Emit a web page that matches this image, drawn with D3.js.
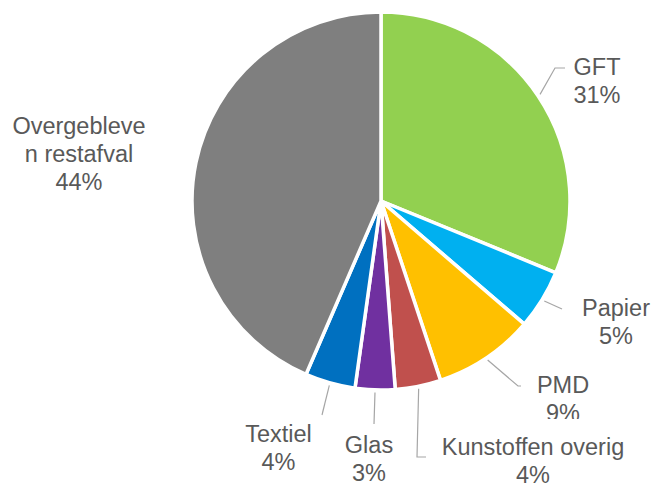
<!DOCTYPE html>
<html>
<head>
<meta charset="utf-8">
<script src="https://cdn.jsdelivr.net/npm/d3@7"></script>
<style>
  body { margin: 0; background: #fff; }
  text { font-family: "Liberation Sans", Arial, sans-serif; font-size: 23.5px; fill: #595959; }
</style>
</head>
<body>
<div id="chart"></div>
<script>
// waste composition, percent
var categories = ["GFT", "Papier", "PMD", "Kunstoffen overig", "Glas", "Textiel", "Overgebleven restafval"];
var values = [31.2, 5.1, 8.6, 3.9, 3.4, 4.3, 43.5];
var colors = ["#92D050", "#00B0F0", "#FFC000", "#C0504D", "#7030A0", "#0070C0", "#7F7F7F"];

var width = 653, height = 483;
var cx = 381, cy = 201, radius = 189;

// label layout: text centre, first baseline, lines, leader bend points
var labelLayout = [
  { x: 597, y: 75, lines: ["GFT"], leader: [[555, 68], [565, 68]] },
  { x: 616, y: 316, lines: ["Papier"], leader: [[562, 309]] },
  { x: 563, y: 393, lines: ["PMD"], leader: [[518, 386], [521, 386]], clip: 419 },
  { x: 533, y: 455, lines: ["Kunstoffen overig"], leader: [[417, 457], [426, 457]] },
  { x: 369, y: 453, lines: ["Glas"], leader: [[374, 424]] },
  { x: 278.5, y: 442, lines: ["Textiel"], leader: [[322, 415]] },
  { x: 79, y: 134, lines: ["Overgebleve", "n restafval"], leader: null }
];
var lineHeight = 28.2;

var data = categories.map(function(c, i) {
  return { name: c, value: values[i], color: colors[i], layout: labelLayout[i] };
});

var svg = d3.select("#chart").append("svg")
    .attr("width", width)
    .attr("height", height);

svg.append("defs").append("clipPath")
    .attr("id", "pmd-clip")
  .append("rect")
    .attr("x", 0).attr("y", 0)
    .attr("width", width).attr("height", 419);

var pie = d3.pie()
    .sort(null)
    .value(function(d) { return d.value; });

var arc = d3.arc()
    .innerRadius(0)
    .outerRadius(radius);

var arcs = pie(data);

var g = svg.append("g")
    .attr("transform", "translate(" + cx + "," + cy + ")");

g.selectAll("path")
    .data(arcs)
  .enter().append("path")
    .attr("d", arc)
    .attr("fill", function(d) { return d.data.color; })
    .attr("stroke", "#fff")
    .attr("stroke-width", 3.5)
    .attr("stroke-linejoin", "round");

// leader lines start just outside the slice at its mid angle
arcs.forEach(function(d) {
  var lay = d.data.layout;
  if (!lay.leader) return;
  var mid = (d.startAngle + d.endAngle) / 2;
  var r = radius + 2.5;
  var pts = [[cx + r * Math.sin(mid), cy - r * Math.cos(mid)]].concat(lay.leader);
  svg.append("path")
      .attr("d", d3.line()(pts))
      .attr("fill", "none")
      .attr("stroke", "#A6A6A6")
      .attr("stroke-width", 1.2);
});

arcs.forEach(function(d) {
  var lay = d.data.layout;
  var lines = lay.lines.concat([Math.round(d.data.value) + "%"]);
  var t = svg.append("text")
      .attr("text-anchor", "middle");
  if (lay.clip) t.attr("clip-path", "url(#pmd-clip)");
  lines.forEach(function(l, i) {
    t.append("tspan")
        .attr("x", lay.x)
        .attr("y", lay.y + i * lineHeight)
        .text(l);
  });
});
</script>
</body>
</html>
